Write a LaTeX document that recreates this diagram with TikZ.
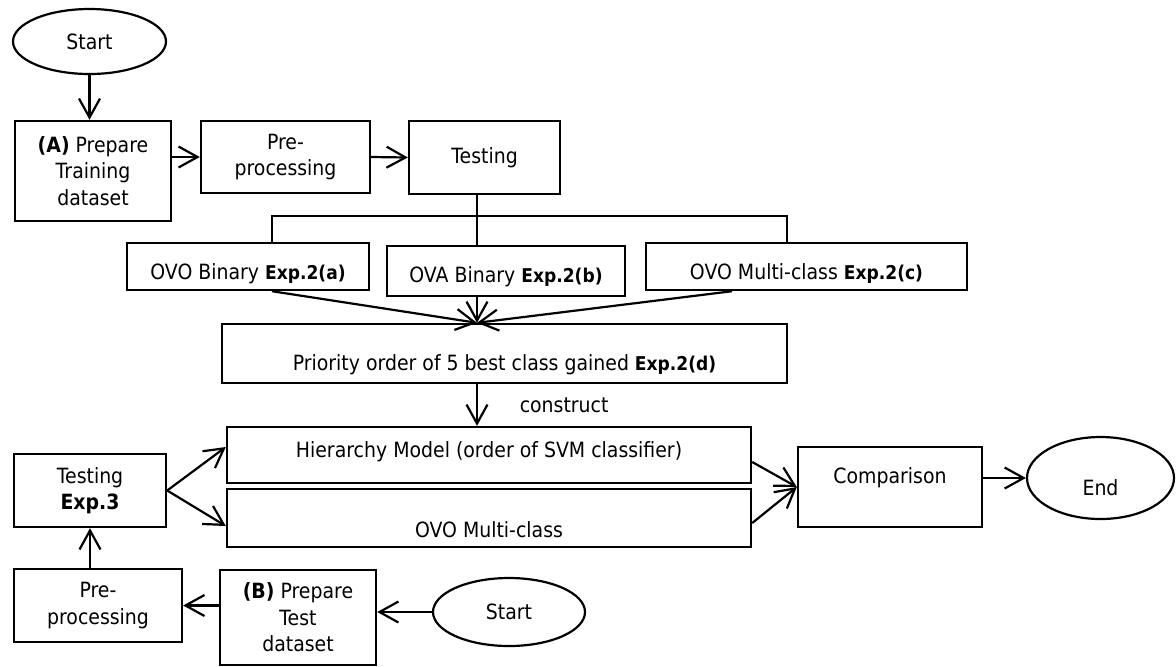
\documentclass[tikz,border=0pt]{standalone}
\usepackage{fontspec}
\setmainfont{DejaVu Sans}[FakeStretch=0.9]
\usetikzlibrary{shapes.geometric,arrows.meta}
\newcommand{\expno}[1]{{\fontsize{9.5}{11}\selectfont\bfseries Exp.#1}}
\tikzset{
	box/.style={draw, line width=1.2pt, align=center, inner sep=2pt},
	oval/.style={draw, ellipse, line width=1.1pt, inner sep=1pt},
	arr/.style={-{Straight Barb[length=9.5pt,width=10.5pt]}, line width=1.1pt},
	bus/.style={line width=0.6pt},
}

\begin{document}
\begin{tikzpicture}[x=0.5pt, y=-0.5pt, font=\fontsize{10.5}{13.25}\selectfont]
	\useasboundingbox (0,0) rectangle (1176,666);
	% training branch
	\node[oval, minimum width=76.5pt, minimum height=32.5pt] (start1) at (89.5,41.5) {Start};
	\node[box, minimum width=78pt, minimum height=50pt] (prepA) at (93,171) {\textbf{(A)} Prepare\\Training\\dataset};
	\node[box, minimum width=84.5pt, minimum height=36pt] (pre1) at (285.5,157) {Pre-\\processing};
	\node[box, minimum width=75.5pt, minimum height=36.5pt] (test1) at (484.5,157.5) {Testing};
	\node[box, minimum width=121pt, minimum height=23.5pt, text height=13.1pt, text depth=0pt] (ovo) at (248,266.5) {OVO Binary \expno{2(a)}};
	\node[box, minimum width=119pt, minimum height=25pt, text height=11.6pt, text depth=0pt] (ova) at (506,271) {OVA Binary \expno{2(b)}};
	\node[box, minimum width=160.5pt, minimum height=23.5pt, text height=13.1pt, text depth=0pt] (ovm) at (806.5,266.5) {OVO Multi-class \expno{2(c)}};
	\node[box, minimum width=282.5pt, minimum height=29.5pt, text height=17.1pt, text depth=0pt] (prio) at (504.5,353.5) {Priority order of 5 best class gained \expno{2(d)}};
	\node[box, minimum width=262pt, minimum height=28pt, text height=7.6pt, text depth=5pt] (hier) at (489,455) {Hierarchy Model (order of SVM classifier)};
	\node[box, minimum width=262pt, minimum height=29pt, text height=19.6pt, text depth=0pt] (ovm2) at (489,518) {OVO Multi-class};
	\node[box, minimum width=92pt, minimum height=40pt, text height=7.6pt, text depth=11pt] (cmp) at (890,487) {Comparison};
	\node[oval, minimum width=73.5pt, minimum height=41pt, text height=17.6pt, text depth=0pt] (finish) at (1100.5,478) {End};
	% test branch
	\node[box, minimum width=76pt, minimum height=36.5pt] (test3) at (90,490.5) {Testing\\\textbf{Exp.3}};
	\node[box, minimum width=84pt, minimum height=36.5pt] (pre2) at (98,605.5) {Pre-\\processing};
	\node[box, minimum width=78pt, minimum height=47.5pt] (prepB) at (298,617.5) {\textbf{(B)} Prepare\\Test\\dataset};
	\node[oval, minimum width=76pt, minimum height=34pt] (start2) at (509,612) {Start};

	\coordinate (busL) at (272,216);
	\coordinate (busR) at (787,216);
	\coordinate (tap) at (477,216);

	\draw[arr] (start1.south) -- (start1.south |- prepA.north);
	\draw[arr] (pre1.west -| prepA.east) -- (pre1.west);
	\draw[arr] (pre1.east) -- (test1.west);
	\draw[bus] (busL |- ovo.north) -- (busL) -- (busR) -- (busR |- ovm.north);
	\draw[bus] (test1.south -| tap) -- (tap |- ova.north);
	\draw[arr] (busL |- ovo.south) -- (tap |- prio.north);
	\draw[arr] (tap |- ova.south) -- (tap |- prio.north);
	\draw[arr] ([xshift=-37.25pt]ovm.south) -- (tap |- prio.north);
	\draw[arr] (tap |- prio.south) -- node[right=17.5pt] {construct} (tap |- hier.north);
	\draw[arr] (test3.east) -- ([yshift=4pt]hier.west);
	\draw[arr] (test3.east) -- ([yshift=-4pt]ovm2.west);
	\draw[arr] ([yshift=-3.5pt]hier.east) -- (cmp.west);
	\draw[arr] ([yshift=-2.5pt]ovm2.east) -- (cmp.west);
	\draw[arr] (cmp.east |- finish.west) -- (finish.west);
	\draw[arr] (test3.south |- pre2.north) -- (test3.south);
	\draw[arr] (prepB.west |- pre2.east) -- (pre2.east);
	\draw[arr] (start2.west) -- (start2.west -| prepB.east);
\end{tikzpicture}
\end{document}
